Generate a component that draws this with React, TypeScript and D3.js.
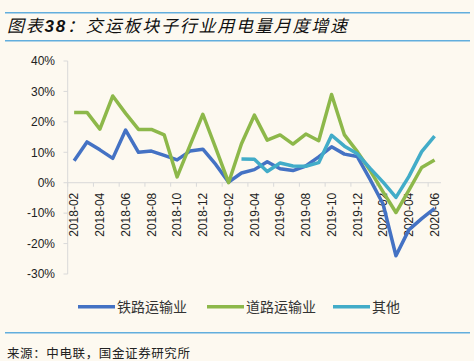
import * as d3 from "d3";

const W = 474;
const H = 361;

// categories, every month 2018-02 .. 2020-06
const months = [
  "2018-02", "2018-03", "2018-04", "2018-05", "2018-06", "2018-07", "2018-08", "2018-09", "2018-10", "2018-11", "2018-12",
  "2019-01", "2019-02", "2019-03", "2019-04", "2019-05", "2019-06", "2019-07", "2019-08", "2019-09", "2019-10", "2019-11", "2019-12",
  "2020-01", "2020-02", "2020-03", "2020-04", "2020-05", "2020-06",
];

// monthly growth, %
const rail = [7.2, 13.4, 10.8, 8.0, 17.3, 10.0, 10.4, 9.0, 7.5, 10.4, 11.0, 6.0, 0.2, 3.2, 4.3, 6.9, 4.6, 4.0, 5.5, 8.5, 11.8, 9.4, 8.6, 1.0, -7.0, -24.0, -15.5, -11.8, -8.4];
const road = [23.1, 23.1, 17.6, 28.5, 22.8, 17.5, 17.5, 15.7, 1.9, 12.3, 22.5, 11.4, 0, 12.8, 22.2, 14.0, 15.7, 12.7, 16.0, 13.8, 29.0, 15.7, 10.2, 4.0, -3.0, -9.8, -2.5, 5.0, 7.5];
const other = [null, null, null, null, null, null, null, null, null, null, null, null, null, 7.8, 7.7, 3.7, 6.5, 5.5, 5.4, 6.6, 15.6, 12.0, 9.5, 4.7, 0.2, -4.8, 2.0, 10.2, 15.3];

const yTicks = [40, 30, 20, 10, 0, -10, -20, -30];

const series = [
  { name: "铁路运输业", values: rail, color: "#4472C4" },
  { name: "道路运输业", values: road, color: "#8DB84A" },
  { name: "其他", values: other, color: "#42ACC8" },
];

const BG = "#FDF9F0";
const RULE = "#62AEDD";
const AXIS = "#D9D9D9";

export default function App() {
  const x = d3.scaleBand<string>().domain(months).range([67.7, 441]);
  const y = d3.scaleLinear().domain([-30, 40]).range([274, 61]);
  const cx = (m: string) => (x(m) as number) + x.bandwidth() / 2;

  const line = d3
    .line<number | null>()
    .defined((d) => d != null)
    .x((_, i) => cx(months[i]))
    .y((d) => y(d as number));

  const labelled = months.filter((_, i) => i % 2 === 0);
  const tickX = months.filter((_, i) => i % 2 === 0).map((m) => x(m) as number);

  const legendPos = [78, 207, 333];

  return (
    <svg width={W} height={H} style={{ display: "block", position: "absolute", left: 0, top: 0 }}>
      <style>{`body{margin:0}`}</style>
      <rect width={W} height={H} fill={BG} />

      {/* title */}
      <line x1={5} x2={470} y1={12.7} y2={12.7} stroke={RULE} strokeWidth={1.5} />
      <line x1={5} x2={470} y1={40.7} y2={40.7} stroke={RULE} strokeWidth={1.5} />
      <text x={7} y={32} fontSize={17} fontStyle="italic" fontFamily="'Noto Sans CJK SC'" fill="#111" textLength={340} lengthAdjust="spacing">
        图表<tspan fontFamily="'Liberation Sans'" fontWeight="bold">38</tspan>：交运板块子行业用电量月度增速
      </text>

      {/* y axis */}
      <line x1={67.7} x2={67.7} y1={y(40)} y2={y(-30)} stroke={AXIS} strokeWidth={1} />
      {yTicks.map((t) => (
        <g key={t}>
          <line x1={63.5} x2={67.7} y1={y(t)} y2={y(t)} stroke={AXIS} />
          <text x={55} y={y(t)} dy="0.36em" textAnchor="end" fontSize={12} fontFamily="'Liberation Sans'" fill="#222">
            {t}%
          </text>
        </g>
      ))}

      {/* x axis at zero */}
      <line x1={67.7} x2={441} y1={y(0)} y2={y(0)} stroke={AXIS} strokeWidth={1} />
      {tickX.map((tx, i) => (
        <line key={i} x1={tx} x2={tx} y1={y(0)} y2={y(0) + 4} stroke={AXIS} />
      ))}
      {labelled.map((m) => (
        <text
          key={m}
          transform={`translate(${cx(m)},${y(0) + 10}) rotate(-90)`}
          dy="0.36em"
          textAnchor="end"
          fontSize={12}
          fontFamily="'Liberation Sans'"
          fill="#222"
        >
          {m}
        </text>
      ))}

      {/* lines */}
      {series.map((s) => (
        <path key={s.name} d={line(s.values) || ""} fill="none" stroke={s.color} strokeWidth={3.5} strokeLinejoin="round" />
      ))}

      {/* legend */}
      {series.map((s, i) => (
        <g key={s.name}>
          <line x1={legendPos[i]} x2={legendPos[i] + 37} y1={306.7} y2={306.7} stroke={s.color} strokeWidth={3.5} />
          <text x={legendPos[i] + 39} y={306.7} dy="0.36em" fontSize={14} fontFamily="'Noto Sans CJK SC'" fill="#333">
            {s.name}
          </text>
        </g>
      ))}

      {/* source */}
      <line x1={5} x2={470} y1={332.7} y2={332.7} stroke={RULE} strokeWidth={1.5} />
      <text x={7} y={358} fontSize={12.5} fontFamily="'Noto Sans CJK SC'" fill="#222" textLength={183} lengthAdjust="spacing">
        来源：中电联，国金证券研究所
      </text>
    </svg>
  );
}
